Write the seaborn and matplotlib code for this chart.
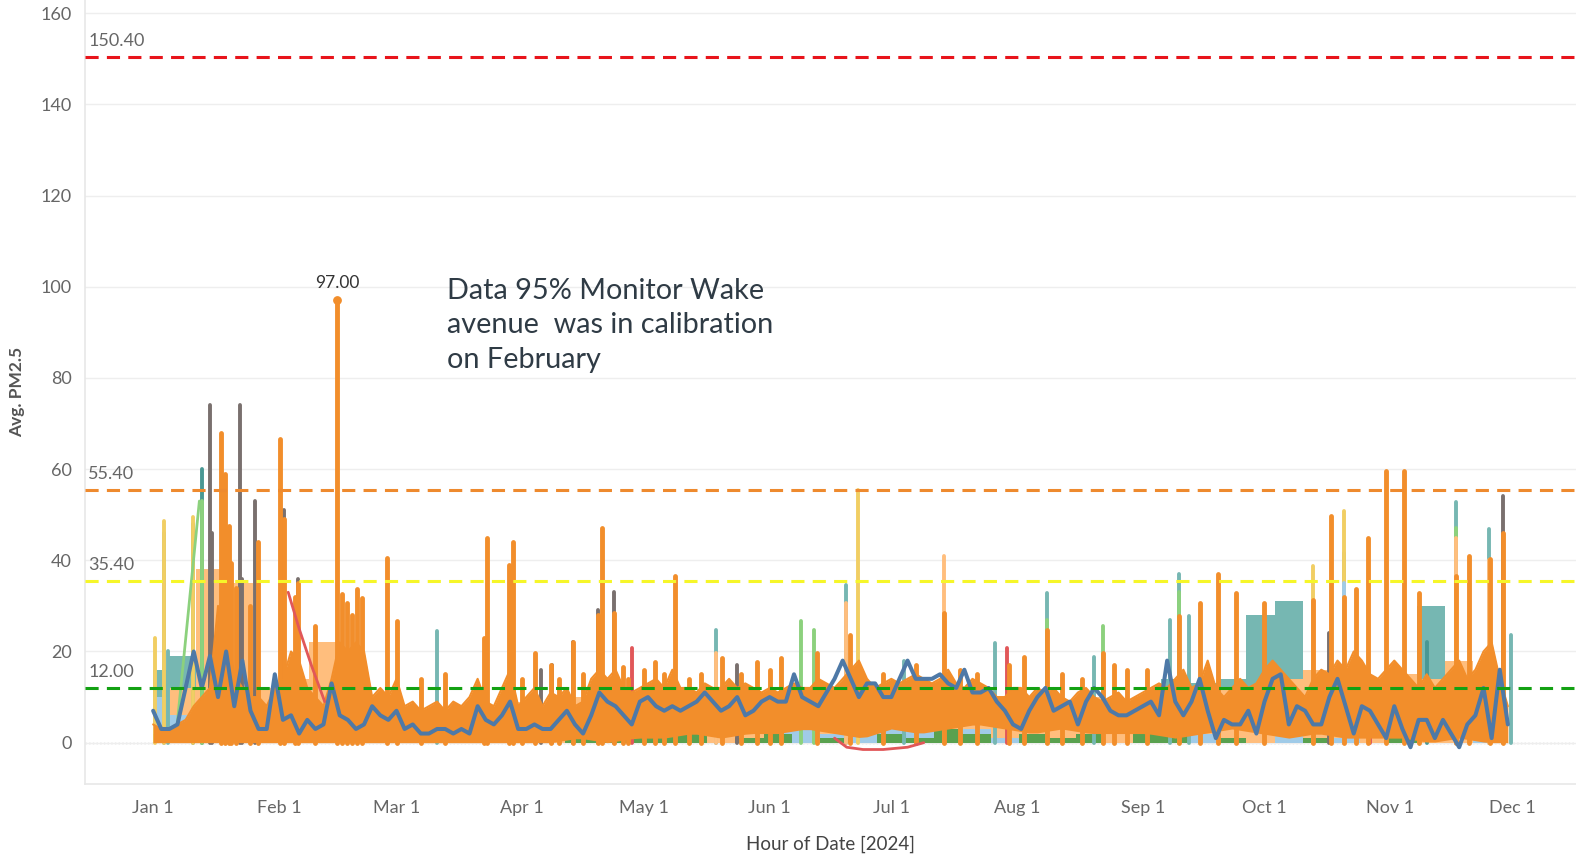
import numpy as np
import pandas as pd
import seaborn as sns
import matplotlib.pyplot as plt
import matplotlib.dates as mdates

start = pd.Timestamp('2024-01-01')

# --- data (days counted from Jan 1 2024) ---
days2 = np.arange(0, 335, 2)
blue = [7, 3, 3, 4, 12, 20, 12, 19, 10, 20, 8, 18, 7, 3, 3, 15,
        5, 6, 2, 5, 3, 4, 13, 6, 5, 3, 4, 8, 6, 5,
        7, 3, 4, 2, 2, 3, 3, 2, 3, 2, 8, 5, 4, 6, 9, 3,
        3, 4, 3, 3, 5, 7, 4, 2, 6, 11, 9, 8, 6, 4, 9,
        10, 8, 7, 8, 7, 8, 9, 11, 9, 7, 8, 10, 6, 7, 9,
        10, 9, 9, 15, 10, 9, 8, 11, 14, 18, 14, 10, 13, 13, 10,
        10, 14, 18, 14, 14, 14, 15, 13, 12, 16, 11, 11, 12, 9, 7, 4,
        3, 7, 10, 12, 7, 8, 9, 4, 9, 12, 10, 7, 6, 6, 7,
        8, 9, 6, 18, 9, 6, 9, 14, 7, 1, 5, 4, 4, 7, 2,
        9, 14, 15, 4, 8, 7, 4, 4, 10, 14, 8, 2, 8, 7, 4, 1,
        8, 3, -1, 5, 5, 1, 5, 2, -1, 4, 6, 12, 1, 16, 4]
orange_top = [4, 3, 3, 4, 5, 8, 10, 12, 30, 25, 15, 12, 10, 10, 8, 12,
              14, 20, 18, 12, 10, 8, 14, 22, 20, 22, 20, 10, 12, 10,
              14, 8, 9, 7, 8, 9, 7, 9, 8, 10, 14, 9, 8, 12, 16, 8,
              10, 12, 8, 11, 10, 12, 8, 9, 14, 16, 14, 16, 12, 11, 12,
              13, 14, 12, 16, 12, 12, 11, 13, 12, 12, 14, 12, 13, 12, 11,
              12, 11, 12, 13, 12, 12, 14, 13, 12, 14, 16, 18, 14, 12, 13,
              14, 13, 14, 15, 14, 13, 14, 16, 13, 12, 14, 13, 12, 10, 10, 12,
              12, 10, 12, 11, 12, 10, 9, 11, 12, 10, 9, 10, 11, 9, 10,
              11, 12, 13, 12, 14, 16, 12, 13, 18, 12, 10, 12, 14, 12, 13,
              16, 18, 16, 14, 12, 10, 14, 16, 15, 18, 16, 20, 18, 15, 14, 16,
              18, 16, 14, 12, 15, 12, 14, 16, 18, 14, 16, 20, 22, 14, 8]

days7 = np.arange(0, 330, 7)
orange_bottom = [0, 0, 0, 0, 0, 0, 0, 0, 0, 0, 0, 0, 0, 0, 0, 1, 0, 1,
                 1, 2, 1, 2, 2, 3, 2, 1, 3, 2, 3, 4, 3, 2, 3, 2, 2,
                 2, 1, 2, 3, 2, 1, 2, 1, 1, 1, 0, 1, 0]
green_top = [2, 1, 0, 1, 0, 0, 0, 1, 0, 0, 1, 0, 1, 1, 0, 1, 2, 1,
             2, 3, 0, 1, 2, 0, 1, 0, 2, 1, 3, 2, 0, 2, 1, 2, 0,
             3, 2, 0, 1, 0, 0, 1, 0, 0, 1, 0, 0, 0]
lblue_top = [10, 6, 2, 1, 0, 0, 0, 0, 0, 0, 0, 1, 0, 1, 0, 0, 0, 1,
             2, 1, 0, 1, 3, 4, 2, 4, 3, 4, 2, 3, 1, 2, 1, 1, 0,
             1, 1, 2, 1, 0, 2, 1, 1, 0, 1, 0, 0, 1]
teal_top = [16, 19, 10, 8, 5, 10, 8, 6, 4, 6, 5, 4, 3, 5, 6, 5, 6, 7,
            8, 9, 8, 9, 10, 9, 10, 12, 11, 12, 13, 12, 10, 9, 8, 8, 9,
            10, 14, 13, 14, 28, 31, 14, 12, 14, 12, 30, 14, 10]
lorange_top = [8, 12, 38, 35, 12, 14, 22, 10, 8, 7, 6, 8, 7, 9, 8, 10, 9, 10,
               11, 10, 10, 11, 11, 10, 12, 13, 12, 13, 11, 10, 10, 10, 9, 10, 9,
               10, 11, 11, 12, 12, 14, 16, 15, 13, 15, 14, 18, 13]

orange_spike_days = [16.8, 17.7, 18.6, 19.3, 20.5, 24.0, 25.9, 31.3, 32.3, 35.0, 35.8,
                     40.0, 45.3, 46.5, 47.8, 49.0, 50.2, 51.5, 57.7, 60.2, 66, 72,
                     81.6, 82.4, 87.8, 88.6, 94.2, 98, 103.5, 109.7, 110.7, 113.6,
                     115.9, 123.7, 128.7, 140.2, 148.9, 154.7, 163.7, 171.9, 194.9,
                     214.8, 220.5, 234.3, 252.9, 258, 262.5, 267, 274, 286, 290.3,
                     293.6, 296.5, 299.4, 303.9, 308.4, 312.1, 321.2, 324.5, 329.5, 332.8,
                     91, 100, 106, 117, 121, 126, 132, 135, 145, 152, 180, 188, 199,
                     203, 211, 224, 229, 237, 240, 245]
orange_spike_vals = [68, 59, 47.5, 39.5, 34, 30, 44, 66.5, 49, 32, 35,
                     25.5, 97, 32.5, 30.7, 28, 33.6, 31.8, 40.6, 26.6, 14, 15,
                     23, 45, 39, 44, 19.6, 17, 22, 28, 47, 28.4,
                     16.7, 17.8, 36.5, 18.5, 17.8, 18.5, 19.6, 23.6, 28.4,
                     18.9, 24.8, 19.6, 27.7, 30.6, 37, 32.8, 30.6, 31.3, 49.7,
                     32, 33.6, 45, 59.6, 59.6, 32.8, 36.5, 41, 40.2, 46,
                     14, 14, 15, 14, 16, 15, 14, 15, 15, 16, 15, 17, 16,
                     15, 17, 15, 14, 17, 16, 16]
gray_days = [13.9, 14.6, 21.4, 22.0, 25.2, 32.3, 35.8, 95.6, 98.4, 103.5, 109.7,
             113.6, 143.9, 290, 332.8]
gray_vals = [74, 46, 74, 36, 53, 51, 36, 16, 17, 22, 29, 33, 17, 24, 54]
teal_days = [2.7, 3.6, 70, 138.8, 170.7, 185, 207.5, 220.5, 232, 250.8, 252.9,
             255.3, 293.6, 321.2, 329.3, 334.8]
teal_vals = [46, 20, 24.4, 24.8, 34.6, 18, 21.8, 32.8, 18.9, 27, 36.9,
             27.7, 41.6, 52.7, 46.8, 23.6]
dteal_days = [9.8, 12.1, 314]
dteal_vals = [48, 60, 22]
lgreen_days = [12.0, 159.7, 162.9, 220.5, 234.3, 252.9, 321.2]
lgreen_vals = [53, 26.6, 24.8, 27, 25.5, 33, 47]
yellow_days = [0.5, 2.7, 9.8, 173.7, 286, 293.6]
yellow_vals = [23, 48.6, 49.5, 55.5, 38.7, 50.8]
lorange_days = [138.8, 170.7, 194.9, 321.2, 329.3]
lorange_vals = [19.6, 30.6, 40.9, 45, 40]
lblue_days = [293.6]
lblue_vals = [35]
red_days = [118, 210.6, 300]
red_vals = [20.7, 20.7, 6]
red_line_days = [33.3, 36, 39, 42.3, np.nan, 168, 171, 175, 180, 186, 190]
red_line_vals = [33, 25, 17, 9, np.nan, 1, -1, -1.5, -1.5, -1, 0]
lgreen_line_days = [5.7, 11.4]
lgreen_line_vals = [2, 53]

ref_vals = [150.40, 55.40, 35.40, 12.00]
ref_colors = ['#e8141b', '#ee8a2e', '#f6f629', '#13a113']
month_labels = ['Jan 1', 'Feb 1', 'Mar 1', 'Apr 1', 'May 1', 'Jun 1',
                'Jul 1', 'Aug 1', 'Sep 1', 'Oct 1', 'Nov 1', 'Dec 1']

sns.set_theme(style='white')
plt.rcParams['font.family'] = ['Lato', 'DejaVu Sans']

D0 = mdates.date2num(start)
def X(d):
    return D0 + np.asarray(d, dtype=float)

fig = plt.figure(figsize=(15.76, 8.55), dpi=100)
ax = fig.add_axes([85.4 / 1576, 71.3 / 855, (1576 - 85.4) / 1576, 783.7 / 855])

# bands behind
ax.fill_between(X(days7), 0, teal_top, step='mid', color='#76b7b2', lw=0, zorder=1)
ax.fill_between(X(days7), 0, lorange_top, step='mid', color='#ffbe7d', lw=0, zorder=1.1)
ax.fill_between(X(days7), 0, lblue_top, step='mid', color='#a0cbe8', lw=0, zorder=1.2)
ax.fill_between(X(days7), 0, green_top, step='mid', color='#59a14f', lw=0, zorder=1.3)

# spikes of the other monitors
spikes = [(teal_days, teal_vals, '#76b7b2'), (dteal_days, dteal_vals, '#499894'),
          (yellow_days, yellow_vals, '#f1ce63'), (lgreen_days, lgreen_vals, '#8cd17d'),
          (lorange_days, lorange_vals, '#ffbe7d'), (lblue_days, lblue_vals, '#a0cbe8'),
          (gray_days, gray_vals, '#79706e'), (red_days, red_vals, '#e15759')]
for dd, vv, c in spikes:
    ax.vlines(X(dd), 0, vv, color=c, lw=2.8, capstyle='round', zorder=1.5)
ax.plot(X(lgreen_line_days), lgreen_line_vals, color='#8cd17d', lw=2, zorder=1.5)

# dense orange monitor
ax.fill_between(X(days2), np.interp(days2, days7, orange_bottom), orange_top,
                color='#f28e2b', lw=0, zorder=2)
ax.plot(X(days2), orange_top, color='#f28e2b', lw=1.5, zorder=2)
ax.vlines(X(orange_spike_days), 0, orange_spike_vals, color='#f28e2b', lw=3.5,
          capstyle='round', zorder=2.1)

ax.plot(X(red_line_days), red_line_vals, color='#e15759', lw=2, zorder=2.5)

sns.lineplot(x=X(days2), y=blue, color='#4e79a7', lw=2.9, ax=ax, zorder=4)

# reference lines
for v, c in zip(ref_vals, ref_colors):
    ax.axhline(v, color=c, lw=2.2, ls=(0, (4.3, 2.7)), zorder=5)
    ax.annotate('%.2f' % v, xy=(0, v), xycoords=('axes fraction', 'data'),
                xytext=(2, 6), textcoords='offset points', ha='left', va='bottom',
                fontsize=13, color='#666666')
ax.axhline(0, color='#bbbbbb', ls=':', lw=1, zorder=0.5)

# peak label
i_max = int(np.argmax(orange_spike_vals))
ax.scatter(X([orange_spike_days[i_max]]), [orange_spike_vals[i_max]], s=28,
           color='#f28e2b', zorder=6)
ax.annotate('%.2f' % orange_spike_vals[i_max],
            xy=(X([orange_spike_days[i_max]])[0], orange_spike_vals[i_max]),
            xytext=(0, 7), textcoords='offset points', ha='center', va='bottom',
            fontsize=12.5, color='#333333')

ax.text(X([72.5])[0], 102, 'Data 95% Monitor Wake\navenue  was in calibration\non February',
        fontsize=20.8, color='#2f3b45', va='top', ha='left', linespacing=1.42)

# axes styling
ax.set_ylim(-9, 162.9)
ax.set_xlim(X([-16.7])[0], X([350.8])[0])
ax.set_yticks(range(0, 161, 20))
month_pos = [mdates.date2num(start + pd.DateOffset(months=m)) for m in range(12)]
ax.set_xticks(month_pos)
ax.set_xticklabels(month_labels)
ax.tick_params(axis='both', length=0, labelsize=13, labelcolor='#666666')
ax.tick_params(axis='y', pad=10)
ax.tick_params(axis='x', pad=12)
ax.yaxis.grid(True, color='#eeeeee', lw=1, zorder=0)
ax.set_axisbelow(True)
for s in ['top', 'right']:
    ax.spines[s].set_visible(False)
for s in ['left', 'bottom']:
    ax.spines[s].set_color('#e8e8e8')
ax.set_ylabel('Avg. PM2.5', fontsize=12.5, color='#555555', fontweight='bold', labelpad=11)
ax.set_xlabel('Hour of Date [2024]', fontsize=13.5, color='#444444', labelpad=14)

fig.savefig('out.png', dpi=100)
